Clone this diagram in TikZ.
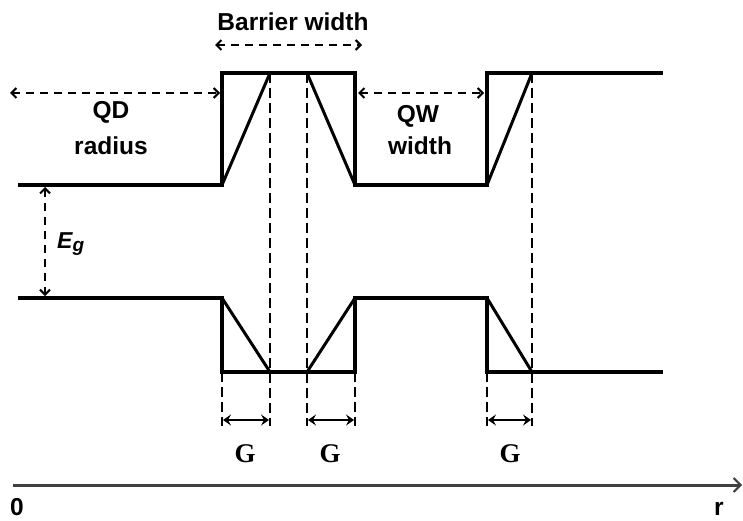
\documentclass[tikz,border=0pt]{standalone}
\usepackage{fontspec}
\setmainfont{Liberation Sans}
\newfontfamily\serifG{Liberation Serif}
\usetikzlibrary{arrows.meta}
\begin{document}
\begin{tikzpicture}[x=1pt,y=-1pt,
  band/.style={line width=4pt, line join=miter},
  ramp/.style={line width=3pt},
  guide/.style={line width=2.8pt, dash pattern=on 10pt off 5pt},
  dimarrow/.style={line width=2.2pt, dash pattern=on 8pt off 6pt,
    {Straight Barb[length=5pt,width=10pt,line width=2pt]}-{Straight Barb[length=5pt,width=10pt,line width=2pt]}},
  garrow/.style={line width=2.4pt,
    {Stealth[length=8pt,width=11pt,inset=3pt]}-{Stealth[length=8pt,width=11pt,inset=3pt]}},
  axis/.style={line width=3pt, draw=black!75, -{Straight Barb[length=7pt,width=14pt,line width=2pt]}},
  lbl/.style={font=\bfseries\fontsize{24.5}{28}\selectfont, inner sep=0pt, anchor=base},
  glbl/.style={font=\serifG\bfseries\fontsize{27}{30}\selectfont, inner sep=0pt, anchor=base},
]
\useasboundingbox (0,0) rectangle (743,521);

% key coordinates
\coordinate (cbL)  at (18,185);
\coordinate (vbL)  at (18,298);
\coordinate (a1)   at (222,73);  \coordinate (a1b) at (222,185);
\coordinate (b1)   at (270,73);
\coordinate (c1)   at (307,73);
\coordinate (d1)   at (355,185); \coordinate (d1t) at (355,73);
\coordinate (e1)   at (487,73);  \coordinate (e1b) at (487,185);
\coordinate (f1)   at (532,73);
\coordinate (cbR)  at (663,73);
\coordinate (a2)   at (222,372); \coordinate (a2t) at (222,298);
\coordinate (b2)   at (270,372);
\coordinate (c2)   at (307,372);
\coordinate (d2)   at (355,298); \coordinate (d2b) at (355,372);
\coordinate (e2)   at (487,372); \coordinate (e2t) at (487,298);
\coordinate (f2)   at (532,372);
\coordinate (vbR)  at (663,372);

% bands
\draw[band] (cbL) -| (a1) -| (d1) -| (e1) -- (cbR);
\draw[band] (vbL) -| (a2) -| (d2) -| (e2) -- (vbR);

% graded ramps
\draw[ramp] (a1b) -- (b1);
\draw[ramp] (c1) -- (d1);
\draw[ramp] (e1b) -- (f1);
\draw[ramp] (a2t) -- (b2);
\draw[ramp] (c2) -- (d2);
\draw[ramp] (e2t) -- (f2);

% dashed guides
\coordinate (ga) at (222,426); \coordinate (gb) at (270,426);
\coordinate (gc) at (307,426); \coordinate (gd) at (355,426);
\coordinate (ge) at (487,426); \coordinate (gf) at (532,426);
\draw[guide] (b1) -- (gb);
\draw[guide] (c1) -- (gc);
\draw[guide] (f1) -- (gf);
\draw[guide] (a2) -- (ga);
\draw[guide] (d2b) -- (gd);
\draw[guide] (e2) -- (ge);

% G arrows
\coordinate (ha) at (223,420); \coordinate (hb) at (269,420);
\coordinate (hc) at (308,420); \coordinate (hd) at (354,420);
\coordinate (he) at (488,420); \coordinate (hf) at (531,420);
\draw[garrow] (ha) -- (hb);
\draw[garrow] (hc) -- (hd);
\draw[garrow] (he) -- (hf);
\node[glbl] (g1) at (245,462) {G};
\node[glbl] (g2) at (330,462) {G};
\node[glbl] (g3) at (510,462) {G};

% dimension arrows
\coordinate (bwL) at (215,45); \coordinate (bwR) at (362,45);
\draw[dimarrow] (bwL) -- (bwR);
\node[lbl] (bw) at (293,31) {Barrier width};

\coordinate (qdL) at (10,93); \coordinate (qdR) at (220,93);
\draw[dimarrow] (qdL) -- (qdR);
\node[lbl] (qd1) at (111,119) {QD};
\node[lbl] (qd2) at (111,155) {radius};

\coordinate (qwL) at (358,93); \coordinate (qwR) at (484,93);
\draw[dimarrow] (qwL) -- (qwR);
\node[lbl] (qw1) at (418,123) {QW};
\node[lbl] (qw2) at (420,155) {width};

\coordinate (egT) at (45,187); \coordinate (egB) at (45,296);
\draw[dimarrow] (egT) -- (egB);
\node[font=\bfseries\itshape\fontsize{23}{26}\selectfont, inner sep=0pt, anchor=base west] (eg) at (57,248) {E\textsubscript{\fontsize{19}{20}\selectfont g}};

% r axis
\coordinate (ax0) at (13,485); \coordinate (ax1) at (742,485);
\draw[axis] (ax0) -- (ax1);
\node[lbl] (zero) at (17,515) {0};
\node[lbl] (rr) at (719,515) {r};
\end{tikzpicture}
\end{document}
